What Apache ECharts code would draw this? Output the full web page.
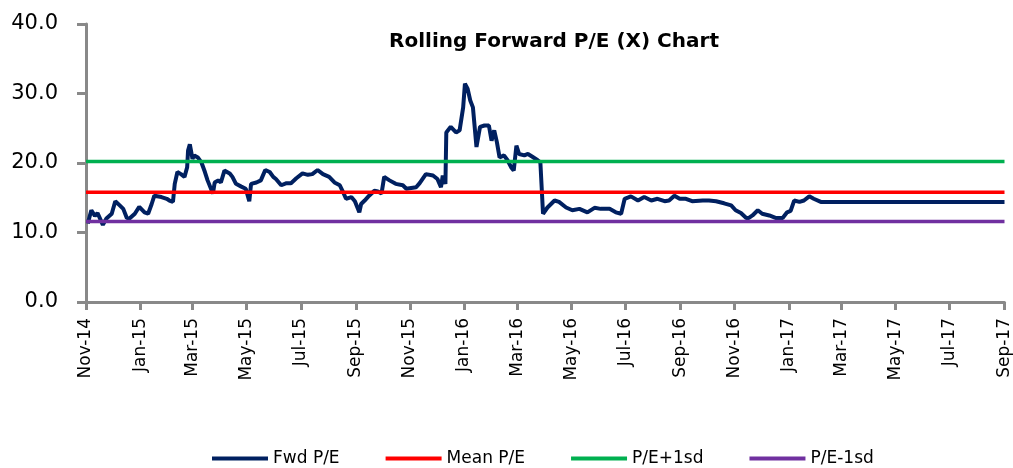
<!DOCTYPE html>
<html>
<head>
<meta charset="utf-8">
<script src="https://cdn.jsdelivr.net/npm/echarts@6/dist/echarts.min.js"></script>
<style>
  html, body { margin: 0; padding: 0; background: #fff; }
  #main { width: 1013px; height: 468px; }
</style>
</head>
<body>
<div id="main"></div>
<script>
// rolling forward P/E
var fwdDates = [
  '2014-11-03','2014-11-07','2014-11-11','2014-11-14','2014-11-20','2014-11-24','2014-11-30',
  '2014-12-04','2014-12-09','2014-12-13','2014-12-17','2014-12-20','2014-12-26','2014-12-31',
  '2015-01-06','2015-01-10','2015-01-14','2015-01-17','2015-01-25','2015-01-31',
  '2015-02-03','2015-02-07','2015-02-09','2015-02-12','2015-02-16','2015-02-20','2015-02-23','2015-02-24','2015-02-26','2015-02-28',
  '2015-03-01','2015-03-03','2015-03-07','2015-03-11','2015-03-15','2015-03-18','2015-03-24','2015-03-26','2015-03-30',
  '2015-04-02','2015-04-06','2015-04-12','2015-04-15','2015-04-19','2015-04-25','2015-04-30',
  '2015-05-04','2015-05-06','2015-05-12','2015-05-17','2015-05-22','2015-05-27','2015-05-31',
  '2015-06-03','2015-06-09','2015-06-15','2015-06-20','2015-06-26',
  '2015-07-03','2015-07-09','2015-07-14','2015-07-20','2015-07-26',
  '2015-08-02','2015-08-08','2015-08-14','2015-08-17','2015-08-21','2015-08-27','2015-08-31',
  '2015-09-05','2015-09-07','2015-09-11','2015-09-16','2015-09-22','2015-09-26','2015-09-30',
  '2015-10-03','2015-10-09','2015-10-16','2015-10-24','2015-10-28',
  '2015-11-08','2015-11-12','2015-11-19','2015-11-27',
  '2015-12-02','2015-12-06','2015-12-08','2015-12-11','2015-12-12','2015-12-17','2015-12-23','2015-12-27','2015-12-31',
  '2016-01-02','2016-01-05','2016-01-08','2016-01-11','2016-01-15','2016-01-19','2016-01-24','2016-01-29',
  '2016-02-01','2016-02-04','2016-02-07','2016-02-10','2016-02-15','2016-02-19','2016-02-23','2016-02-26','2016-02-29',
  '2016-03-03','2016-03-09','2016-03-13','2016-03-18','2016-03-24','2016-03-27','2016-03-30',
  '2016-04-04','2016-04-12','2016-04-17','2016-04-25',
  '2016-05-02','2016-05-10','2016-05-19','2016-05-27',
  '2016-06-03','2016-06-13','2016-06-20','2016-06-26','2016-06-30',
  '2016-07-07','2016-07-15','2016-07-22','2016-07-30',
  '2016-08-06','2016-08-14','2016-08-19','2016-08-25','2016-08-31',
  '2016-09-07','2016-09-14','2016-09-26',
  '2016-10-03','2016-10-11','2016-10-20','2016-10-28',
  '2016-11-02','2016-11-08','2016-11-14','2016-11-17','2016-11-21','2016-11-27',
  '2016-12-02','2016-12-10','2016-12-17','2016-12-25','2016-12-30',
  '2017-01-03','2017-01-07','2017-01-13','2017-01-18','2017-01-24','2017-01-29',
  '2017-02-06','2017-09-01'
];
var fwdValues = [
  11.3, 13.2, 12.4, 12.8, 11.1, 12.0, 12.7,
  14.5, 13.9, 13.4, 12.1, 12.0, 12.7, 13.7,
  12.9, 12.7, 14.1, 15.3, 15.1, 14.85,
  14.6, 14.4, 17.0, 18.7, 18.4, 18.0, 19.4, 21.8, 22.7, 22.5,
  20.6, 21.1, 20.8, 20.1, 18.7, 17.5, 15.6, 17.2, 17.5,
  17.2, 18.9, 18.5, 18.0, 17.0, 16.6, 16.3,
  14.5, 17.0, 17.2, 17.5, 19.0, 18.7, 18.0,
  17.7, 16.8, 17.1, 17.1, 17.8,
  18.5, 18.3, 18.4, 19.0, 18.4,
  18.0, 17.2, 16.8, 16.0, 14.85, 15.1, 14.5,
  12.9, 14.1, 14.6, 15.3, 16.0, 15.9, 15.6,
  18.0, 17.5, 17.0, 16.8, 16.3,
  16.5, 17.1, 18.4, 18.2,
  17.7, 16.5, 18.2, 17.0, 24.4, 25.2, 24.4, 24.7, 28.0,
  31.4, 30.7, 29.0, 28.0, 22.3, 25.2, 25.4, 25.4,
  23.2, 24.7, 23.0, 20.8, 21.1, 20.4, 19.4, 18.9, 22.5,
  21.3, 21.1, 21.3, 20.9, 20.4, 20.1, 12.7,
  13.6, 14.6, 14.4, 13.6,
  13.2, 13.4, 12.9, 13.55,
  13.4, 13.4, 12.9, 12.7, 14.85,
  15.2, 14.6, 15.1, 14.6,
  14.85, 14.5, 14.6, 15.3, 14.85,
  14.85, 14.5, 14.6,
  14.6, 14.5, 14.2, 13.9,
  13.2, 12.8, 12.1, 12.1, 12.45, 13.2,
  12.7, 12.45, 12.1, 12.1, 12.9,
  13.1, 14.6, 14.4, 14.6, 15.2, 14.85,
  14.4, 14.4
];

var meanPE = 15.8;
var plus1sd = 20.2;
var minus1sd = 11.6;

var axisStart = '2014-11-01';
var axisEnd = '2017-09-01';
var tickDates = [
  '2014-11-01','2015-01-01','2015-03-01','2015-05-01','2015-07-01','2015-09-01',
  '2015-11-01','2016-01-01','2016-03-01','2016-05-01','2016-07-01','2016-09-01',
  '2016-11-01','2017-01-01','2017-03-01','2017-05-01','2017-07-01','2017-09-01'
];
var monthNames = ['Jan','Feb','Mar','Apr','May','Jun','Jul','Aug','Sep','Oct','Nov','Dec'];

function ts(s) {
  var p = s.split('-').map(Number);
  return new Date(p[0], p[1] - 1, p[2]).getTime();
}

var chart = echarts.init(document.getElementById('main'));

var fwdData = fwdDates.map(function (d, i) { return [ts(d), fwdValues[i]]; });
function flat(v) { return [[ts(axisStart), v], [ts(axisEnd), v]]; }

var axisGrey = '#898989';

var option = {
  animation: false,
  backgroundColor: '#ffffff',
  title: {
    text: 'Rolling Forward P/E (X) Chart',
    left: 549,
    top: 27,
    textAlign: 'center',
    textStyle: {
      fontFamily: 'DejaVu Sans',
      fontWeight: 'bold',
      fontSize: 20,
      color: '#000'
    }
  },
  legend: {
    left: 212,
    top: 450,
    padding: 0,
    icon: 'rect',
    itemWidth: 56,
    itemHeight: 4,
    itemGap: 46,
    textStyle: { fontFamily: 'DejaVu Sans', fontSize: 17, color: '#000' },
    data: ['Fwd P/E', 'Mean P/E', 'P/E+1sd', 'P/E-1sd']
  },
  grid: { left: 86, right: 8, top: 24, bottom: 166 },
  xAxis: {
    // dates as timestamps on a value axis so the ticks can sit on every other month
    type: 'value',
    min: ts(axisStart),
    max: ts(axisEnd),
    splitLine: { show: false },
    axisLine: { lineStyle: { color: axisGrey, width: 3 } },
    axisTick: {
      show: true,
      length: 8,
      lineStyle: { color: axisGrey, width: 3 },
      customValues: tickDates.map(ts)
    },
    axisLabel: {
      rotate: 90,
      margin: 16,
      fontFamily: 'DejaVu Sans',
      fontSize: 17,
      color: '#000',
      customValues: tickDates.map(ts),
      formatter: function (v) {
        var d = new Date(v);
        return monthNames[d.getMonth()] + '-' + String(d.getFullYear()).slice(2);
      }
    }
  },
  yAxis: {
    type: 'value',
    min: 0,
    max: 40,
    interval: 10,
    splitLine: { show: false },
    axisLine: { show: true, lineStyle: { color: axisGrey, width: 3 } },
    axisTick: { show: true, length: 9, lineStyle: { color: axisGrey, width: 3 } },
    axisLabel: {
      margin: 28,
      fontFamily: 'DejaVu Sans',
      fontSize: 21,
      color: '#000',
      formatter: function (v) { return v.toFixed(1); }
    }
  },
  series: [
    {
      name: 'Fwd P/E', type: 'line', data: fwdData, symbol: 'none',
      lineStyle: { color: '#002060', width: 4 }, itemStyle: { color: '#002060' }
    },
    {
      name: 'Mean P/E', type: 'line', data: flat(meanPE), symbol: 'none',
      lineStyle: { color: '#ff0000', width: 3.5 }, itemStyle: { color: '#ff0000' }
    },
    {
      name: 'P/E+1sd', type: 'line', data: flat(plus1sd), symbol: 'none',
      lineStyle: { color: '#00b050', width: 3.5 }, itemStyle: { color: '#00b050' }
    },
    {
      name: 'P/E-1sd', type: 'line', data: flat(minus1sd), symbol: 'none',
      lineStyle: { color: '#7030a0', width: 3.5 }, itemStyle: { color: '#7030a0' }
    }
  ]
};

chart.setOption(option);
</script>
</body>
</html>
